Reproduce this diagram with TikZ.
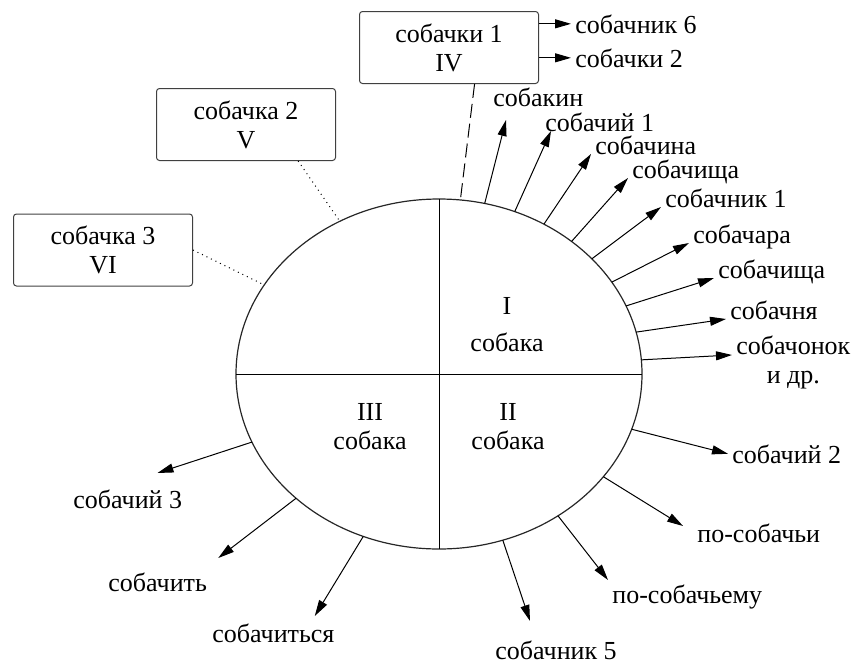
\documentclass[tikz,border=0pt]{standalone}
\usepackage{fontspec}
\setmainfont{Liberation Serif}
\usetikzlibrary{arrows.meta,shapes.geometric}
\tikzset{
  mainellipse/.style={ellipse, draw=black!85, line width=0.6pt, minimum width=203pt, minimum height=175pt, inner sep=0pt, outer sep=0pt},
  formbox/.style={rectangle, draw=black!75, rounded corners=1.5pt, line width=0.5pt, minimum width=89.5pt, minimum height=36pt, align=center},
  word/.style={inner sep=2pt},
  fwd/.style={-{Triangle[length=8pt,width=4.5pt]}, line width=0.5pt},
  dashlink/.style={dash pattern=on 7pt off 3pt, line width=0.5pt},
  dotlink/.style={dotted, line width=0.5pt},
}

\begin{document}
\begin{tikzpicture}[x=0.5pt, y=-0.5pt, font=\fontsize{13}{14.5}\selectfont]
  \useasboundingbox (0,0) rectangle (861,664);
  \node[mainellipse] (e) at (439,374) {};
  \draw (e.west) -- (e.east);
  \draw (e.north) -- (e.south);
  \node[align=center] (q1) at (507,325) {I\\[4pt]собака};
  \node[align=center] (q2) at (508,427) {II\\собака};
  \node[align=center] (q3) at (370,427) {III\\собака};

  % boxes round the circle
  \node[formbox] (iv) at (449,47.5) {собачки 1\\IV};
  \node[formbox] (v) at (246,124.5) {собачка 2\\V};
  \node[formbox] (vi) at (103,250) {собачка 3\\VI};
  \node[word, anchor=base west] (sobachnik6) at (571,33) {собачник 6};
  \node[word, anchor=base west] (sobachki2) at (571,67) {собачки 2};

  \node[word, anchor=base west] (sobakin) at (489,106) {собакин};
  \node[word, anchor=base west] (sobachij1) at (541,131) {собачий 1};
  \node[word, anchor=base west] (sobachina) at (591,154) {собачина};
  \node[word, anchor=base west] (sobachishcha1) at (628,178) {собачища};
  \node[word, anchor=base west] (sobachnik1) at (661,207) {собачник 1};
  \node[word, anchor=base west] (sobachara) at (689,243) {собачара};
  \node[word, anchor=base west] (sobachishcha2) at (714,278) {собачища};
  \node[word, anchor=base west] (sobachnja) at (726,319) {собачня};
  \node[word, anchor=north west, align=center] (sobachonok) at (732,331) {собачонок\\и др.};

  \node[word, anchor=base west] (sobachij2) at (728,463) {собачий 2};
  \node[word, anchor=base west] (posobachi) at (693,542) {по-собачьи};
  \node[word, anchor=base west] (posobachemu) at (608,603) {по-собачьему};
  \node[word, anchor=base west] (sobachnik5) at (491,659) {собачник 5};
  \node[word, anchor=base west] (sobachij3) at (69,508) {собачий 3};
  \node[word, anchor=base west] (sobachit) at (104,591) {собачить};
  \node[word, anchor=base west] (sobachitsja) at (208,642) {собачиться};

  \draw[fwd] (iv.east |- sobachnik6.west) -- (sobachnik6.west);
  \draw[fwd] (iv.east |- sobachki2.west) -- (sobachki2.west);
  \draw[dashlink] (iv.-55) -- (e.83);
  \draw[dotlink] (v.-35) -- (e.123.5);
  \draw[dotlink] (vi.east) -- (e.153);

  \draw[fwd] (e.75) -- ([xshift=8.5pt,yshift=-7pt]sobakin.base west);
  \draw[fwd] (e.65.4) -- ([xshift=5pt]sobachij1.base west);
  \draw[fwd] (e.55) -- (sobachina.base west);
  \draw[fwd] (e.45) -- (sobachishcha1.base west);
  \draw[fwd] (e.37) -- (sobachnik1.base west);
  \draw[fwd] (e.28) -- (sobachara.base west);
  \draw[fwd] (e.20) -- (sobachishcha2.base west);
  \draw[fwd] (e.12) -- (sobachnja.base west);
  \draw[fwd] (e.4) -- ([yshift=3.5pt]sobachonok.west);
  \draw[fwd] (e.-16) -- (sobachij2.west);
  \draw[fwd] (e.-32) -- ([xshift=-5pt,yshift=-3.5pt]posobachi.north west);
  \draw[fwd] (e.-50) -- (posobachemu.north west);
  \draw[fwd] (e.-69) -- ([xshift=19.5pt,yshift=7.5pt]sobachnik5.north west);
  \draw[fwd] (e.245) -- ([xshift=-12pt,yshift=1.5pt]sobachitsja.north east);
  \draw[fwd] (e.221) -- ([xshift=3.5pt,yshift=5pt]sobachit.north east);
  \draw[fwd] (e.200) -- ([xshift=-14.5pt,yshift=6pt]sobachij3.north east);
\end{tikzpicture}
\end{document}
